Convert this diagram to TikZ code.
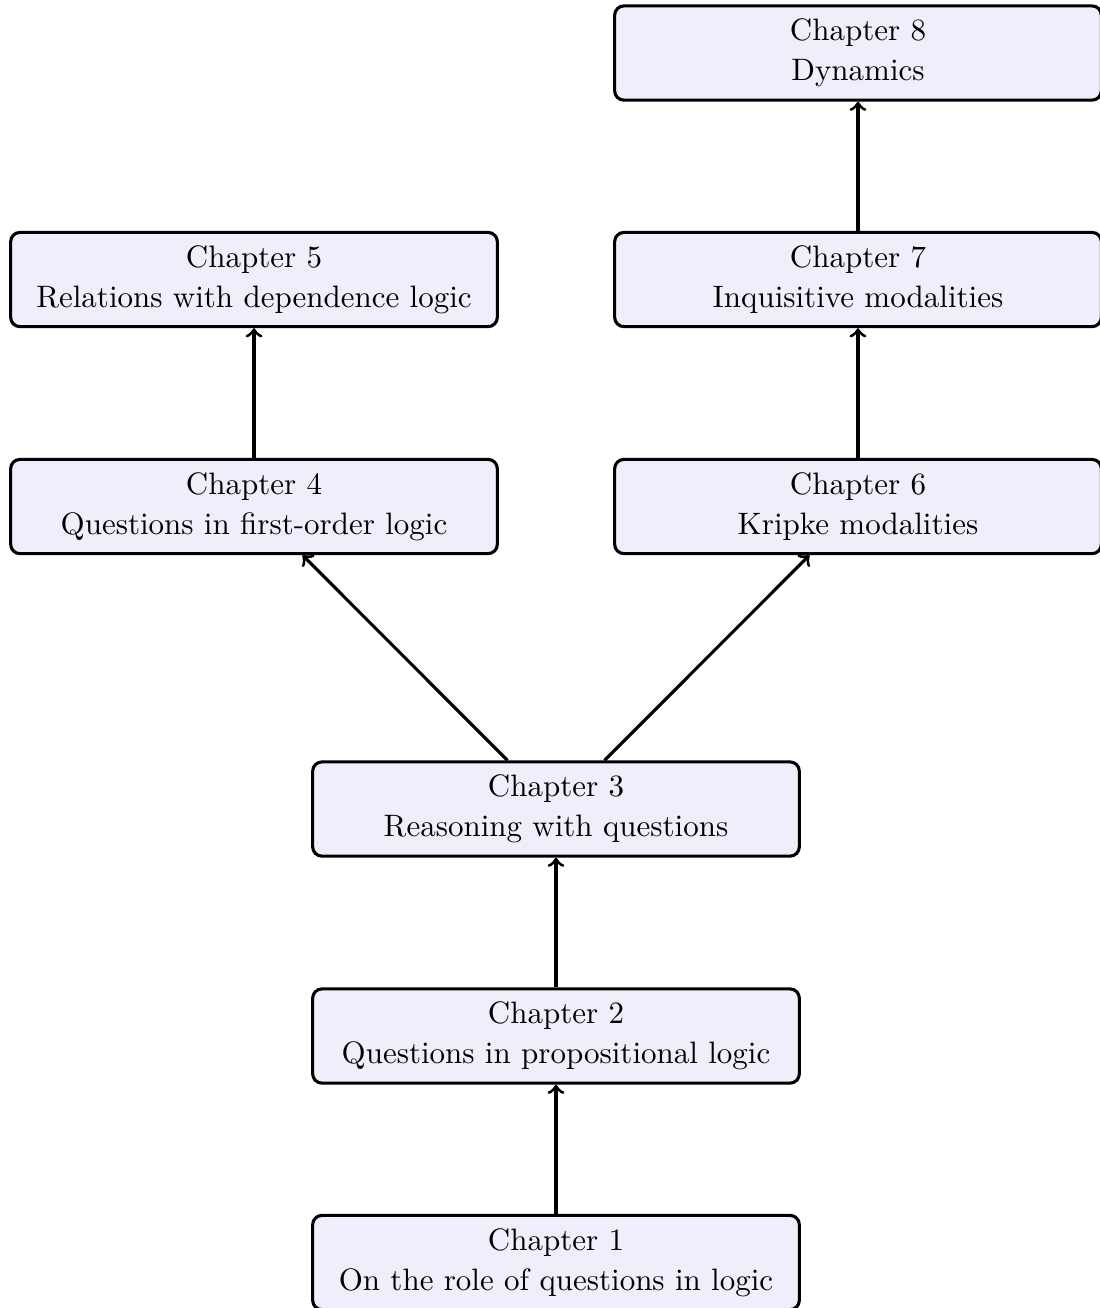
\documentclass[tikz,border=0pt]{standalone}
\definecolor{boxfill}{RGB}{239,239,252}
\tikzset{
  chapbox/.style={draw=black, line width=1pt, fill=boxfill, rounded corners=3pt,
    align=center, minimum width=157pt, minimum height=30.4pt, inner sep=0pt},
  conn/.style={->, line width=1pt}
}
\begin{document}
\begin{tikzpicture}[x=0.32258pt,y=-0.32258pt]
\useasboundingbox (0,0) rectangle (1100,1308);
\node[chapbox] (c1) at (556,1262.5) {Chapter 1\\[1pt]On the role of questions in logic};
\node[chapbox] (c2) at (556,1036) {Chapter 2\\[1pt]Questions in propositional logic};
\node[chapbox] (c3) at (556,809) {Chapter 3\\[1pt]Reasoning with questions};
\node[chapbox] (c4) at (254,506.5) {Chapter 4\\[1pt]Questions in first-order logic};
\node[chapbox] (c5) at (254,279.5) {Chapter 5\\[1pt]Relations with dependence logic};
\node[chapbox] (c6) at (858,506.5) {Chapter 6\\[1pt]Kripke modalities};
\node[chapbox] (c7) at (858,279.5) {Chapter 7\\[1pt]Inquisitive modalities};
\node[chapbox] (c8) at (858,53) {Chapter 8\\[1pt]Dynamics};
\draw[conn] (c1) -- (c2);
\draw[conn] (c2) -- (c3);
\draw[conn] (c3) -- (c4);
\draw[conn] (c3) -- (c6);
\draw[conn] (c4) -- (c5);
\draw[conn] (c6) -- (c7);
\draw[conn] (c7) -- (c8);
\end{tikzpicture}
\end{document}
